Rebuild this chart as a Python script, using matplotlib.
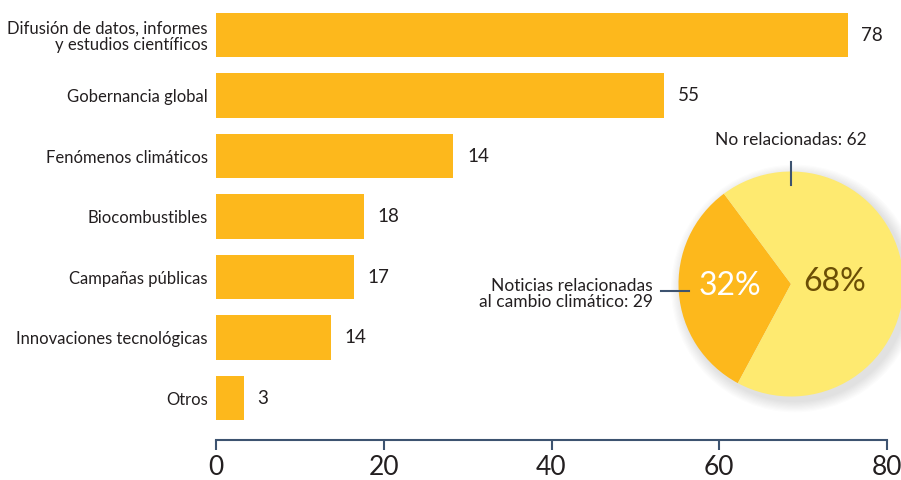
import matplotlib
matplotlib.use("Agg")
import matplotlib.pyplot as plt
from matplotlib.patches import Circle

plt.rcParams['font.family'] = ['Lato', 'DejaVu Sans']

categories = ["Difusión de datos, informes\ny estudios científicos", "Gobernancia global",
              "Fenómenos climáticos", "Biocombustibles", "Campañas públicas",
              "Innovaciones tecnológicas", "Otros"]
bar_values = [75.3, 53.4, 28.3, 17.6, 16.4, 13.7, 3.3]
value_labels = ["78", "55", "14", "18", "17", "14", "3"]
xticks = [0, 20, 40, 60, 80]

pie_values = [32, 68]
pie_pct_labels = ["32%", "68%"]
pie_names = ["Noticias relacionadas\nal cambio climático: 29", "No relacionadas: 62"]

W, H = 901, 480
fig = plt.figure(figsize=(W/100, H/100), dpi=100)

bar_color = "#FDB81C"
axis_color = "#3D5370"
text_color = "#231F20"

ax = fig.add_axes([216/W, 40/H, 671/W, 440/H])
n = len(categories)
ypos = list(range(n-1, -1, -1))
ax.barh(ypos, bar_values, height=0.73, color=bar_color, edgecolor='none')
ax.set_xlim(0, 80)
ax.set_ylim(-0.694, 6.579)
ax.set_yticks(ypos)
ax.set_yticklabels(categories, fontsize=12, color=text_color, linespacing=1.05)
ax.tick_params(axis='y', length=0, pad=6)
ax.set_xticks(xticks)
ax.set_xticklabels([str(t) for t in xticks], fontsize=19, color=text_color)
ax.tick_params(axis='x', direction='out', length=7, width=1.5, color=axis_color, pad=4)
for s in ['top', 'right', 'left']:
    ax.spines[s].set_visible(False)
ax.spines['bottom'].set_color(axis_color)
ax.spines['bottom'].set_linewidth(1.5)
for y, v, lab in zip(ypos, bar_values, value_labels):
    ax.annotate(lab, (v, y), xytext=(10, 0), textcoords='offset points',
                ha='left', va='center', fontsize=13.5, color=text_color)

# Pie
cx, cy, r = 791, 284, 112.5
pax = fig.add_axes([(cx-r)/W, (H-cy-r)/H, 2*r/W, 2*r/H])
pax.set_xlim(-1, 1)
pax.set_ylim(-1, 1)
pax.set_aspect('equal')
pax.axis('off')
for i in range(10):
    rr = 1.0 + 0.01*(i+1)
    pax.add_patch(Circle((0.035, -0.04), rr, facecolor='#7a7a7a', alpha=0.018,
                         edgecolor='none', clip_on=False, zorder=0))
wedges, _ = pax.pie(pie_values, colors=["#FDB81C", "#FEEA70"], startangle=126.6,
                    radius=1, wedgeprops=dict(edgecolor='none'))
for w in wedges:
    w.set_zorder(2)
    w.set_clip_on(False)
pax.set_xlim(-1, 1)
pax.set_ylim(-1, 1)
pax.text(-0.54, -0.02, pie_pct_labels[0], fontsize=23, color='white', ha='center', va='center', zorder=3)
pax.text(0.39, 0.02, pie_pct_labels[1], fontsize=23, color='#6B4E05', ha='center', va='center', zorder=3)

fig.text(cx/W, (H-140)/H, pie_names[1], fontsize=12.5, color=text_color, ha='center', va='center')
fig.add_artist(plt.Line2D([cx/W, cx/W], [(H-162)/H, (H-185)/H], color=axis_color, lw=1.5))
fig.text(653/W, (H-294)/H, pie_names[0], fontsize=12.5, color=text_color, ha='right', va='center',
         linespacing=1.0)
fig.add_artist(plt.Line2D([661/W, 689/W], [(H-291)/H, (H-291)/H], color=axis_color, lw=1.5))

fig.savefig("out.png", dpi=100)
